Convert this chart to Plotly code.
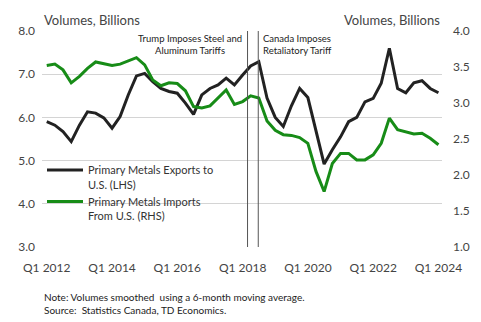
import plotly.graph_objects as go
import pandas as pd

quarters = pd.date_range("2012-01-01", "2024-01-01", freq="QS")

exports_lhs = [5.90, 5.82, 5.67, 5.44, 5.82, 6.13, 6.10, 5.99, 5.75, 6.02,
               6.52, 6.96, 7.02, 6.83, 6.67, 6.60, 6.56, 6.33, 6.07, 6.52,
               6.67, 6.75, 6.91, 6.75, 6.98, 7.19, 7.29, 6.45, 6.00, 5.79,
               6.27, 6.67, 6.46, 5.67, 4.92, 5.25, 5.55, 5.90, 6.00, 6.36,
               6.44, 6.79, 7.60, 6.67, 6.57, 6.80, 6.85, 6.67, 6.57]

imports_rhs = [3.52, 3.54, 3.46, 3.28, 3.37, 3.48, 3.57, 3.55, 3.52, 3.54,
               3.58, 3.63, 3.53, 3.32, 3.24, 3.28, 3.27, 3.17, 2.95, 2.93,
               2.96, 3.07, 3.18, 2.98, 3.02, 3.10, 3.07, 2.75, 2.62, 2.56,
               2.55, 2.52, 2.44, 2.05, 1.77, 2.16, 2.30, 2.30, 2.21, 2.21,
               2.28, 2.44, 2.79, 2.63, 2.60, 2.57, 2.58, 2.51, 2.42]

tick_dates = ["2012-01-01", "2014-01-01", "2016-01-01", "2018-01-01",
              "2020-01-01", "2022-01-01", "2024-01-01"]
tick_labels = ["Q1 2012", "Q1 2014", "Q1 2016", "Q1 2018",
               "Q1 2020", "Q1 2022", "Q1 2024"]

event_dates = ["2018-02-25", "2018-06-25"]

FONT = "Lato"
TXT = "#444444"

fig = go.Figure()
fig.add_trace(go.Scatter(x=quarters, y=exports_lhs, mode="lines",
                         name="Primary Metals Exports to<br>U.S. (LHS)",
                         line=dict(color="#222222", width=3), yaxis="y"))
fig.add_trace(go.Scatter(x=quarters, y=imports_rhs, mode="lines",
                         name="Primary Metals Imports<br>From U.S. (RHS)",
                         line=dict(color="#178c17", width=3), yaxis="y2"))

for d in event_dates:
    fig.add_shape(type="line", xref="x", yref="paper", x0=d, x1=d, y0=0, y1=1,
                  line=dict(color="#555555", width=1))

fig.update_layout(
    width=481, height=322,
    margin=dict(l=42, r=39, t=31, b=75),
    plot_bgcolor="white", paper_bgcolor="white",
    font=dict(family=FONT, color=TXT, size=12),
    showlegend=True,
    legend=dict(x=0.0, y=0.42, xanchor="left", yanchor="top",
                bgcolor="rgba(0,0,0,0)", font=dict(size=11, color="#333333"),
                tracegroupgap=0, itemwidth=36, valign="top"),
    xaxis=dict(type="date", range=["2011-11-09", "2024-02-10"],
               tickvals=tick_dates, ticktext=tick_labels, showgrid=False,
               showline=False, ticks="", zeroline=False,
               ticklabelstandoff=12,
               tickfont=dict(size=12, color=TXT)),
    yaxis=dict(range=[3, 8], dtick=1, tickformat=".1f", showgrid=True,
               gridcolor="#d4d4d4", gridwidth=1, zeroline=False, ticks="",
               ticklabelstandoff=6, tickfont=dict(size=12, color=TXT)),
    yaxis2=dict(range=[1, 4], dtick=0.5, tickformat=".1f", overlaying="y",
                side="right", showgrid=False, zeroline=False, ticks="",
                ticklabelstandoff=10, tickfont=dict(size=12, color=TXT)),
)

fig.add_annotation(xref="paper", yref="paper", x=0, y=1.0, xanchor="left",
                   yanchor="bottom", yshift=1, text="Volumes, Billions",
                   showarrow=False, font=dict(size=13, color=TXT))
fig.add_annotation(xref="paper", yref="paper", x=1, y=1.0, xanchor="right",
                   yanchor="bottom", yshift=1, text="Volumes, Billions",
                   showarrow=False, font=dict(size=13, color=TXT))
fig.add_annotation(xref="x", yref="paper", x="2018-01-20", y=1.0,
                   xanchor="right", yanchor="top", align="center",
                   text="Trump Imposes Steel and<br>Aluminum Tariffs",
                   showarrow=False, font=dict(size=9.5, color="#222222"))
fig.add_annotation(xref="x", yref="paper", x="2018-07-25", y=1.0,
                   xanchor="left", yanchor="top", align="left",
                   text="Canada Imposes<br>Retaliatory Tariff",
                   showarrow=False, font=dict(size=9.5, color="#222222"))
fig.add_annotation(xref="paper", yref="paper", x=0, y=-0.195, xanchor="left",
                   yanchor="top", align="left",
                   text="Note: Volumes smoothed  using a 6-month moving average.<br>Source:  Statistics Canada, TD Economics.",
                   showarrow=False, font=dict(size=10, color="#222222"))

fig.write_html("out.html")
